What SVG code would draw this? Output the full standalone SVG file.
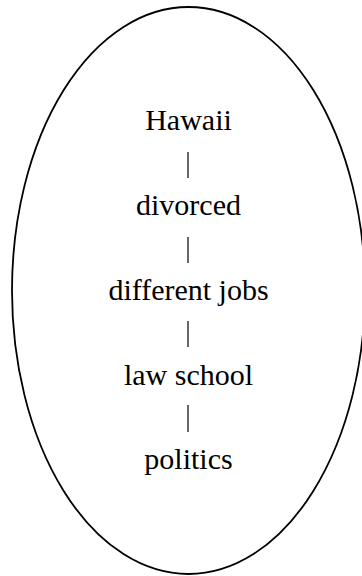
<svg xmlns="http://www.w3.org/2000/svg" width="362" height="576" viewBox="0 0 362 576">
<defs>
<style>
.lbl{font-family:"Liberation Serif",Tinos,"Times New Roman",Times,serif;font-size:30px;fill:#000;text-anchor:middle}
.conn{stroke:#000;stroke-width:1.2;fill:none}
.oval{fill:#fff;stroke:#000;stroke-width:1.8}
</style>
</defs>
<rect width="362" height="576" fill="#fff"/>
<g id="boundary"><ellipse class="oval" cx="188.5" cy="290.5" rx="176.5" ry="283.5"/></g>
<g id="connectors">
<line class="conn" x1="188" y1="152" x2="188" y2="178"/>
<line class="conn" x1="188" y1="237" x2="188" y2="263"/>
<line class="conn" x1="188" y1="321" x2="188" y2="347"/>
<line class="conn" x1="188" y1="405" x2="188" y2="432"/>
</g>
<g id="hawaii"><text class="lbl" x="188.5" y="130">Hawaii</text></g>
<g id="divorced"><text class="lbl" x="188.5" y="215">divorced</text></g>
<g id="different-jobs"><text class="lbl" x="188.5" y="300">different jobs</text></g>
<g id="law-school"><text class="lbl" x="188.5" y="385">law school</text></g>
<g id="politics"><text class="lbl" x="188.5" y="469">politics</text></g>
</svg>
